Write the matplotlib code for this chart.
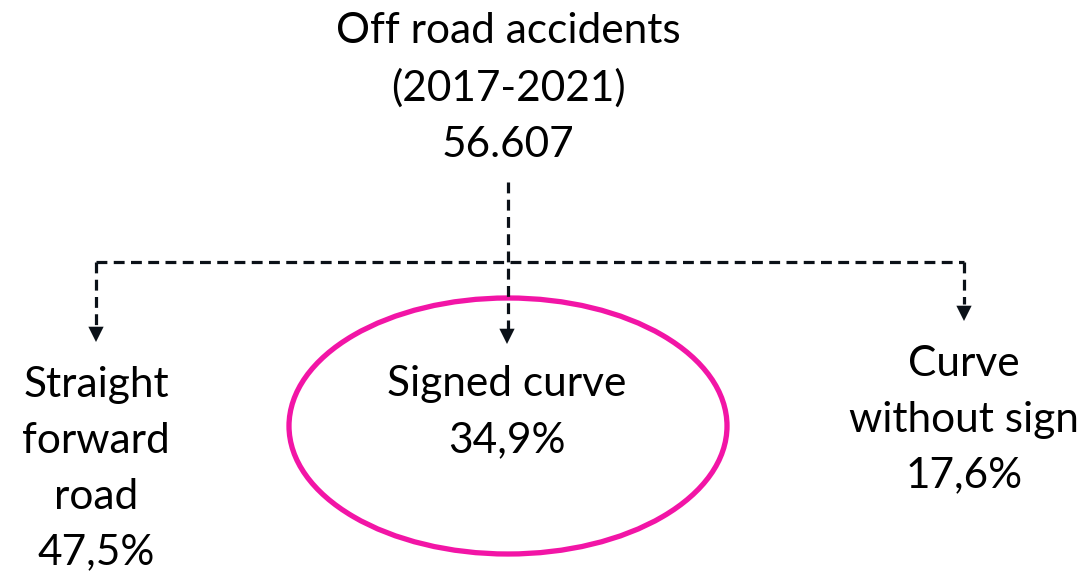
import matplotlib.pyplot as plt
from matplotlib.patches import Ellipse

plt.rcParams['font.family'] = ['Lato', 'DejaVu Sans']

# data
title = "Off road accidents"
period = "(2017-2021)"
total = "56.607"
branches = ["Straight\nforward\nroad", "Signed curve", "Curve\nwithout sign"]
shares = ["47,5%", "34,9%", "17,6%"]

fig = plt.figure(figsize=(10.89, 5.77), dpi=100)
ax = fig.add_axes([0, 0, 1, 1])
ax.set_xlim(0, 1089)
ax.set_ylim(577, 0)
ax.axis('off')

fs = 30.5
ls = 1.57
ink = '#0b1118'

# root node
ax.text(508, 88, title + "\n" + period + "\n" + total, ha='center', va='center',
        fontsize=fs, linespacing=ls, color='black')

# dashed connectors
line_kw = dict(color=ink, lw=2.3, ls=(0, (3.4, 2.0)))
ax.plot([508, 508], [182, 330], **line_kw)
ax.plot([96, 964], [262, 262], **line_kw)
ax.plot([96, 96], [262, 326], **line_kw)
ax.plot([964, 964], [262, 304], **line_kw)

branch_x = [96, 507, 964]
tips = [342, 344, 321]
for x, tip in zip(branch_x, tips):
    ax.annotate('', xy=(x, tip), xytext=(x, tip - 16),
                arrowprops=dict(arrowstyle='-|>,head_length=1.1,head_width=0.55',
                                color=ink, lw=0, shrinkA=0, shrinkB=0))

# highlighted node
ax.add_patch(Ellipse((508, 426), 438, 256, fill=False, ec='#F215A6', lw=3.8))

# leaf labels
centers_y = [469, 412, 420]
for x, y, lab, sh in zip(branch_x, centers_y, branches, shares):
    ax.text(x, y, lab + "\n" + sh, ha='center', va='center',
            fontsize=fs, linespacing=ls, color='black')

fig.savefig('out.png', dpi=100)
